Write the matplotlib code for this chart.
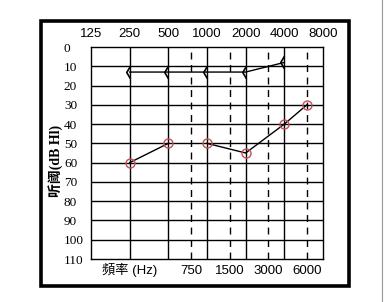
import numpy as np
import matplotlib.pyplot as plt
from matplotlib.path import Path
from matplotlib.patches import Rectangle
from matplotlib.lines import Line2D

top_freqs = [125, 250, 500, 1000, 2000, 4000, 8000]
mid_freqs = [750, 1500, 3000, 6000]
db_ticks = list(range(0, 120, 10))

air_freqs = [250, 500, 1000, 2000, 4000, 6000]
air_db = [60, 50, 50, 55, 40, 30]

bone_freqs = [250, 500, 1000, 2000, 4000]
bone_db = [13, 13, 13, 13, 8]

fig = plt.figure(figsize=(3.84, 3.02), dpi=100)
ax = fig.add_axes([91/384, 1-259/302, 232/384, 212/302])

ax.set_xscale('log', base=2)
ax.set_xlim(125, 8000)
ax.set_ylim(110, 0)

# grid
for f in top_freqs[1:-1]:
    ax.axvline(f, color='black', lw=1.0)
for f in mid_freqs:
    ax.axvline(f, color='black', lw=1.0, ls=(0, (5, 4)))
for d in db_ticks[1:-1]:
    ax.axhline(d, color='black', lw=1.0)

# air conduction: gap between 500 and 1000
ax.plot(air_freqs[:2], air_db[:2], color='black', lw=1.0)
ax.plot(air_freqs[2:], air_db[2:], color='black', lw=1.0)
ax.plot(air_freqs, air_db, ls='none', marker='o', ms=6.5, mfc='none',
        mec='#c4505c', mew=1.0)

# bone conduction chevrons
chev = Path([(0, 1), (-0.6, 0), (0, -1)], [Path.MOVETO, Path.LINETO, Path.LINETO])
ax.plot(bone_freqs, bone_db, color='black', lw=1.0)
ax.plot(bone_freqs, bone_db, ls='none', marker=chev, ms=9,
        fillstyle='none', mec='black', mew=1.2)

for s in ax.spines.values():
    s.set_linewidth(1.0)

ax.set_yticks(db_ticks)
ax.set_yticklabels([str(d) for d in db_ticks], family='Liberation Serif',
                   fontsize=9.5, ha='left')
ax.tick_params(axis='y', length=0, pad=19.5)

ax.xaxis.set_ticks_position('top')
ax.set_xticks(top_freqs)
ax.set_xticklabels([str(f) for f in top_freqs], family='Liberation Sans', fontsize=9.5)
ax.xaxis.set_minor_locator(plt.NullLocator())
ax.tick_params(axis='x', length=0, pad=5)

sec = ax.secondary_xaxis('bottom')
sec.set_xticks(mid_freqs)
sec.set_xticklabels([str(f) for f in mid_freqs], family='Liberation Sans', fontsize=9.5)
sec.xaxis.set_minor_locator(plt.NullLocator())
sec.tick_params(axis='x', length=0, pad=4)
sec.spines['bottom'].set_visible(False)

fig.text(130/384, 1-270/302, '頻率 (Hz)', ha='center', va='center', fontsize=9.5,
         family=['Liberation Sans', 'Noto Sans CJK TC'])
fig.text(56/384, 1-161/302, '听阈(dB Hl)', ha='center', va='center', fontsize=10,
         rotation=90, weight='bold', family=['Liberation Serif', 'Noto Sans CJK SC'])

# outer frame
fig.patches.append(Rectangle((40.5/384, 1-286/302), 308/384, 265/302,
                             transform=fig.transFigure, fill=False,
                             lw=2.6, ec='black'))
fig.lines.append(Line2D([381.5/384, 381.5/384], [0, 1], transform=fig.transFigure,
                        color='#999999', lw=0.8))

fig.savefig('out.png', dpi=100)
